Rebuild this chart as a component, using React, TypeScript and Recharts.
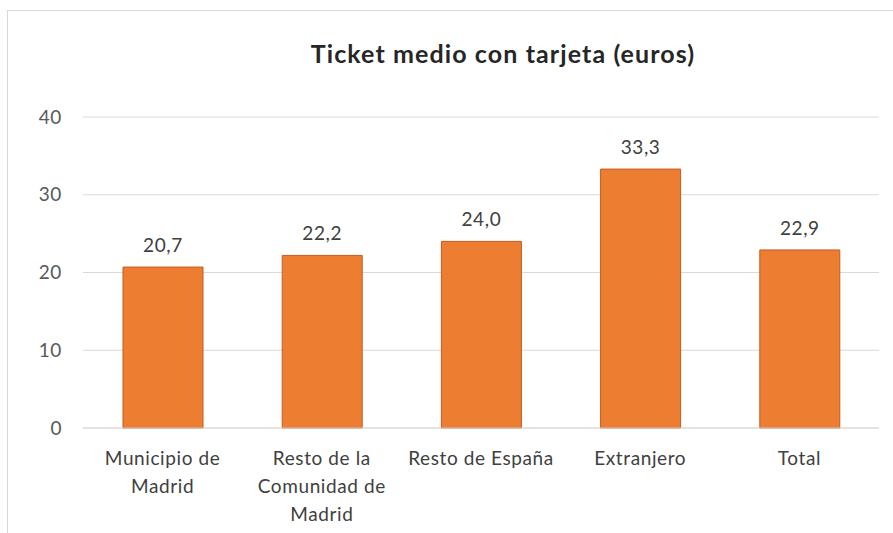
import { BarChart, Bar, XAxis, YAxis, CartesianGrid, LabelList } from 'recharts'

const categories = ['Municipio de Madrid', 'Resto de la Comunidad de Madrid', 'Resto de España', 'Extranjero', 'Total']
const tickLines = [['Municipio de', 'Madrid'], ['Resto de la', 'Comunidad de', 'Madrid'], ['Resto de España'], ['Extranjero'], ['Total']]
const ticketMedio = [20.7, 22.2, 24.0, 33.3, 22.9]
const yTicks = [0, 10, 20, 30, 40]

const data = categories.map((name, i) => ({ name, lines: tickLines[i], value: ticketMedio[i] }))

const font = 'Lato, "Open Sans", sans-serif'

const CategoryTick = ({ x, y, index }: any) => {
  const lines = tickLines[index] || []
  return (
    <g transform={`translate(${x},${y})`}>
      {lines.map((l, i) => (
        <text
          key={i}
          x={0}
          y={37 + i * 28}
          textAnchor="middle"
          fill="#404040"
          fontSize={19}
          letterSpacing={0.6}
          fontFamily={font}
        >
          {l}
        </text>
      ))}
    </g>
  )
}

const App = () => {
  return (
    <div style={{ position: 'absolute', left: 0, top: 0, width: 893, height: 533, background: '#fff', overflow: 'hidden' }}>
      <div
        style={{
          position: 'absolute',
          left: 7,
          top: 10,
          right: -2,
          bottom: -2,
          borderTop: '1px solid #d9d9d9',
          borderLeft: '1px solid #d9d9d9'
        }}
      />
      <div
        style={{
          position: 'absolute',
          left: 0,
          width: 1006,
          top: 38,
          textAlign: 'center',
          fontFamily: font,
          fontWeight: 'bold',
          fontSize: 25,
          letterSpacing: 1.1,
          color: '#262626'
        }}
      >
        Ticket medio con tarjeta (euros)
      </div>
      <BarChart
        width={893}
        height={533}
        data={data}
        margin={{ top: 117, right: 14, bottom: 0, left: 0 }}
        style={{ position: 'absolute', left: 0, top: 0 }}
      >
        <CartesianGrid vertical={false} stroke="#d9d9d9" />
        <XAxis
          dataKey="name"
          height={105}
          interval={0}
          tickLine={false}
          tickSize={0}
          tickMargin={0}
          axisLine={{ stroke: '#d9d9d9' }}
          tick={<CategoryTick />}
        />
        <YAxis
          width={83}
          domain={[0, 40]}
          ticks={yTicks}
          axisLine={false}
          tickLine={false}
          tickMargin={15}
          tick={{ fill: '#595959', fontSize: 19, fontFamily: font, letterSpacing: 0.6 }}
        />
        <Bar dataKey="value" fill="#ED7D31" stroke="#C65A1E" strokeWidth={1} barSize={80} isAnimationActive={false}>
          <LabelList
            dataKey="value"
            position="top"
            offset={15}
            formatter={(v: any) => Number(v).toFixed(1).replace('.', ',')}
            style={{ fill: '#404040', fontSize: 19, fontFamily: font, letterSpacing: 0.6 }}
          />
        </Bar>
      </BarChart>
    </div>
  )
}

export default App
